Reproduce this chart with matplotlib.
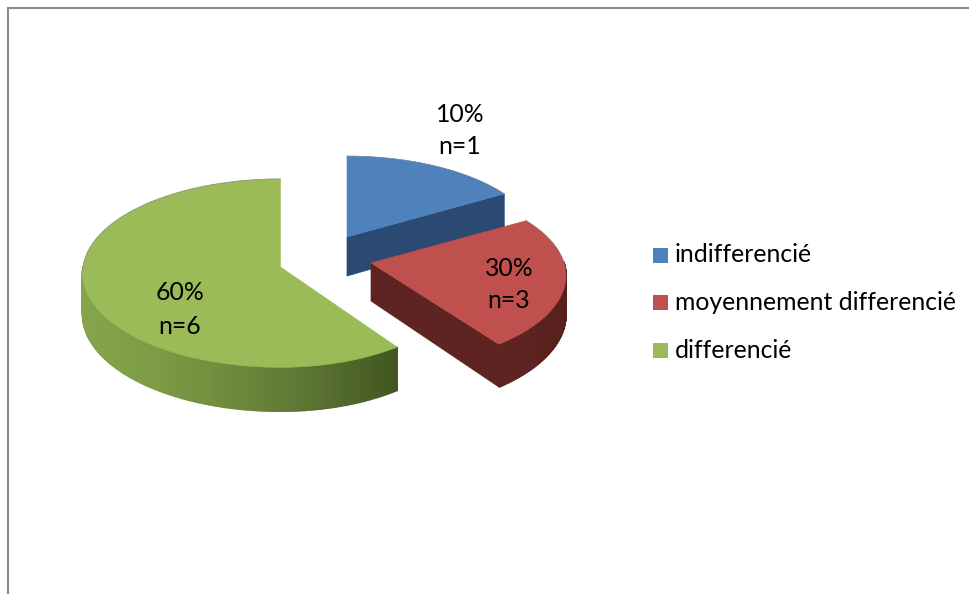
import numpy as np
import matplotlib
matplotlib.use("Agg")
import matplotlib.pyplot as plt
from matplotlib.colors import to_rgb
from matplotlib.patches import Rectangle

# data
categories = ["indifferencié", "moyennement differencié", "differencié"]
shares = [16.5, 23.5, 60.0]  # size of the slices as drawn
pct_labels = ["10%", "30%", "60%"]
n_labels = ["n=1", "n=3", "n=6"]

# colours
top_colors = ["#4f81bd", "#c0504d", "#9bbb59"]
wall_left = ["#2a4a73", "#5e2421", "#85a34a"]
wall_right = ["#2a4a73", "#56201d", "#415622"]

# layout of each slice in pixels: apex x, apex y, rx, ry, perspective, depth
cx = [347, 371, 280.5]
cy = [237, 263, 267]
rx_left = [190, 197, 197.5]
rx_right = [192, 193, 188]
ry = [89, 89, 93.8]
persp = [0.10, 0.14, 0.065]
depth = [39, 38, 41]
label_x = [460, 509, 180]
label_y = [114, 268, 293]

plt.rcParams["font.family"] = ["Lato", "DejaVu Sans"]

fig = plt.figure(figsize=(9.7, 5.94), dpi=100)
ax = fig.add_axes([0, 0, 1, 1])
ax.set_xlim(0, 970)
ax.set_ylim(594, 0)
ax.axis("off")


def project(i, t):
    # t is the angle in radians, clockwise from 12 o'clock
    u = np.sin(t)
    v = np.cos(t)
    s = 1 / (1 + persp[i] * v)
    r = np.where(u > 0, rx_right[i], rx_left[i])
    return cx[i] + r * u * s, cy[i] - ry[i] * v * s, depth[i] * s


# slice angles from the values
edges = np.radians(np.cumsum([0] + shares) * 3.6)

for i in range(3):
    t0, t1 = edges[i], edges[i + 1]
    ts = np.linspace(t0, t1, 240)
    x, y, d = project(i, ts)

    # straight cut wall
    if i < 2:
        xe, ye, de = project(i, t1)
        ax.fill([cx[i], xe, xe, cx[i]], [cy[i], ye, ye + de, cy[i] + depth[i]],
                color=wall_left[i], lw=0.5)

    # outer wall, only the part that faces us
    wall = (ts >= np.pi / 2 - 0.02) & (ts <= 3 * np.pi / 2 + 0.02)
    xw, yw, dw = x[wall], y[wall], d[wall]
    if len(xw) > 1:
        left = np.array(to_rgb(wall_left[i]))
        right = np.array(to_rgb(wall_right[i]))
        for k in range(len(xw) - 1):
            f = ((xw[k] - xw.min()) / (xw.max() - xw.min())) ** 1.5
            col = left + (right - left) * f
            ax.fill([xw[k], xw[k + 1], xw[k + 1], xw[k]],
                    [yw[k], yw[k + 1], yw[k + 1] + dw[k + 1], yw[k] + dw[k]],
                    color=col, lw=1.2)

    # top face
    ax.fill(np.r_[cx[i], x], np.r_[cy[i], y], color=top_colors[i], lw=0.4)

    # thin grey rim on the back of the slice
    back = np.cos(ts) > -0.05
    ax.plot(x[back], y[back], color="#808080", lw=0.6, alpha=0.6)

# data labels
for i in range(3):
    ax.text(label_x[i], label_y[i], pct_labels[i], ha="center", va="center",
            fontsize=17.8, color="black")
    ax.text(label_x[i], label_y[i] + 33, n_labels[i], ha="center", va="center",
            fontsize=17.8, color="black")

# legend
legend_y = [255, 302.5, 350]
for i in range(3):
    ax.add_patch(Rectangle((653, legend_y[i] - 7.5), 15, 15, color=top_colors[i], lw=0))
    ax.text(675, legend_y[i], categories[i], ha="left", va="center",
            fontsize=17.8, color="black")

# frame of the chart, only top and left are in the crop
ax.plot([8.5, 8.5, 970], [594, 7.5, 7.5], color="#8c8c8c", lw=1.5, solid_joinstyle="miter")

fig.savefig("out.png", dpi=100)
